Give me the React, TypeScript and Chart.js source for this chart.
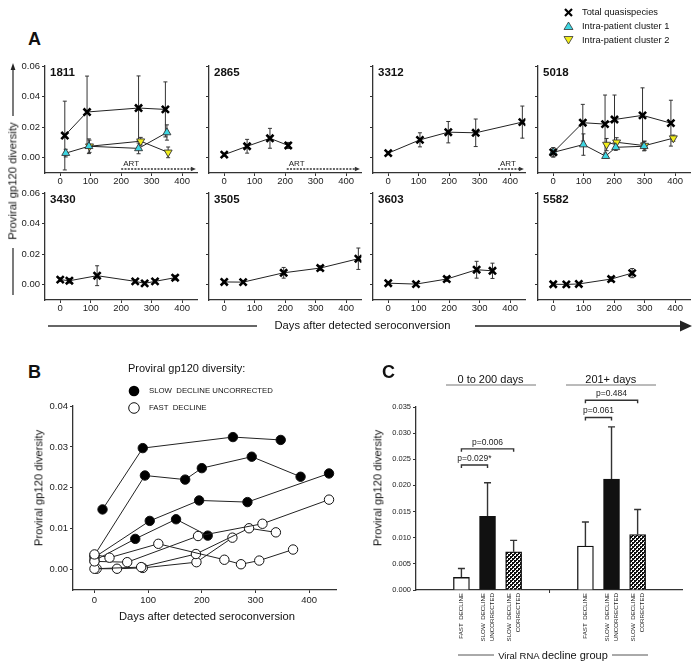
import React, { useEffect, useRef } from 'react';
import { Chart, registerables } from 'chart.js';

Chart.register(...registerables);

const FONT = "'Liberation Sans', Arial, Helvetica, sans-serif";
Chart.defaults.font.family = FONT;
Chart.defaults.color = '#222';

// ---------------- Panel A data ----------------
const A_X_TICKS = [0, 100, 200, 300, 400];
const A_Y_TICKS = [0, 0.02, 0.04, 0.06];

const P1811_DAYS = [15, 88, 257, 345];
const P1811_TOTAL = [0.0145, 0.0299, 0.0325, 0.0316];
const P1811_TOTAL_ERR = [0.0225, 0.0235, 0.021, 0.018];
const P1811_C1_DAYS = [18, 94, 257, 350];
const P1811_C1 = [0.003, 0.0075, 0.0061, 0.0165];
const P1811_C1_ERR = [0.0025, 0.0048, 0.0035, 0.005];
const P1811_C2_DAYS = [96, 264, 354];
const P1811_C2 = [0.0075, 0.0108, 0.0035];
const P1811_C2_ERR = [0.004, 0.0025, 0.0035];

const P2865_DAYS = [0, 75, 150, 210];
const P2865_TOTAL = [0.002, 0.0075, 0.0127, 0.008];
const P2865_TOTAL_ERR = [0.001, 0.0045, 0.0065, 0.002];

const P3312_DAYS = [0, 104, 197, 287, 440];
const P3312_TOTAL = [0.003, 0.0117, 0.0167, 0.0163, 0.0233];
const P3312_TOTAL_ERR = [0.001, 0.0046, 0.007, 0.009, 0.0105];

const P5018_DAYS = [0, 97, 170, 201, 293, 386];
const P5018_TOTAL = [0.0035, 0.0229, 0.022, 0.025, 0.0277, 0.0226];
const P5018_TOTAL_ERR = [0.003, 0.012, 0.019, 0.016, 0.018, 0.015];
const P5018_C1_DAYS = [0, 99, 172, 205, 298];
const P5018_C1 = [0.0035, 0.0086, 0.001, 0.0068, 0.0075];
const P5018_C1_ERR = [0.003, 0.007, 0.001, 0.002, 0.003];
const P5018_C2_DAYS = [175, 208, 300, 394];
const P5018_C2 = [0.0086, 0.0101, 0.0079, 0.0128];
const P5018_C2_ERR = [0.004, 0.003, 0.003, 0.002];

const P3430_DAYS = [0, 30, 121, 246, 277, 311, 377];
const P3430_TOTAL = [0.0033, 0.0026, 0.0059, 0.0022, 0.0009, 0.0022, 0.0046];
const P3430_TOTAL_ERR = [0.0012, 0.0015, 0.0065, 0.001, 0.0008, 0.001, 0.0015];

const P3505_DAYS = [0, 62, 195, 315, 440];
const P3505_TOTAL = [0.0018, 0.0017, 0.0078, 0.0109, 0.017];
const P3505_TOTAL_ERR = [0.001, 0.0008, 0.0035, 0.0015, 0.007];

const P3603_DAYS = [0, 91, 192, 290, 342];
const P3603_TOTAL = [0.001, 0.0004, 0.0037, 0.0098, 0.0091];
const P3603_TOTAL_ERR = [0.0008, 0.0006, 0.0015, 0.0055, 0.005];

const P5582_DAYS = [0, 43, 84, 190, 259];
const P5582_TOTAL = [0.0003, 0.0002, 0.0005, 0.0037, 0.0076];
const P5582_TOTAL_ERR = [0.0006, 0.0005, 0.0006, 0.0015, 0.003];

const A_LEGEND = ['Total quasispecies', 'Intra-patient cluster 1', 'Intra-patient cluster 2'];

type Series = { days: number[]; vals: number[]; errs: number[] };
type Panel = { name: string; row: number; col: number; art?: number; total: Series; c1?: Series; c2?: Series };

const A_PANELS: Panel[] = [
  { name: '1811', row: 0, col: 0, art: 200,
    total: { days: P1811_DAYS, vals: P1811_TOTAL, errs: P1811_TOTAL_ERR },
    c1: { days: P1811_C1_DAYS, vals: P1811_C1, errs: P1811_C1_ERR },
    c2: { days: P1811_C2_DAYS, vals: P1811_C2, errs: P1811_C2_ERR } },
  { name: '2865', row: 0, col: 1, art: 205,
    total: { days: P2865_DAYS, vals: P2865_TOTAL, errs: P2865_TOTAL_ERR } },
  { name: '3312', row: 0, col: 2, art: 360,
    total: { days: P3312_DAYS, vals: P3312_TOTAL, errs: P3312_TOTAL_ERR } },
  { name: '5018', row: 0, col: 3,
    total: { days: P5018_DAYS, vals: P5018_TOTAL, errs: P5018_TOTAL_ERR },
    c1: { days: P5018_C1_DAYS, vals: P5018_C1, errs: P5018_C1_ERR },
    c2: { days: P5018_C2_DAYS, vals: P5018_C2, errs: P5018_C2_ERR } },
  { name: '3430', row: 1, col: 0, total: { days: P3430_DAYS, vals: P3430_TOTAL, errs: P3430_TOTAL_ERR } },
  { name: '3505', row: 1, col: 1, total: { days: P3505_DAYS, vals: P3505_TOTAL, errs: P3505_TOTAL_ERR } },
  { name: '3603', row: 1, col: 2, total: { days: P3603_DAYS, vals: P3603_TOTAL, errs: P3603_TOTAL_ERR } },
  { name: '5582', row: 1, col: 3, total: { days: P5582_DAYS, vals: P5582_TOTAL, errs: P5582_TOTAL_ERR } },
];

// ---------------- Panel B data ----------------
const B_X_TICKS = [0, 100, 200, 300, 400];
const B_Y_TICKS = [0, 0.01, 0.02, 0.03, 0.04];
const B_LEGEND = ['SLOW  DECLINE UNCORRECTED', 'FAST  DECLINE'];

const B1811_DAYS = [15, 90, 258, 347];
const B1811_VALS = [0.0147, 0.0297, 0.0324, 0.0317];
const B5018_DAYS = [0, 94, 169, 200, 293, 384];
const B5018_VALS = [0.0035, 0.023, 0.022, 0.0248, 0.0276, 0.0227];
const B3312_DAYS = [0, 103, 195, 285, 437];
const B3312_VALS = [0.003, 0.0119, 0.0169, 0.0165, 0.0235];
const B2865_DAYS = [0, 76, 152, 211];
const B2865_VALS = [0.0022, 0.0075, 0.0123, 0.0083];

const B3430_DAYS = [0, 28, 119, 242, 273, 307, 370];
const B3430_VALS = [0.0037, 0.0029, 0.0063, 0.0024, 0.0013, 0.0022, 0.0049];
const B3505_DAYS = [0, 61, 193, 313, 437];
const B3505_VALS = [0.002, 0.0018, 0.0082, 0.0112, 0.0171];
const B3603_DAYS = [0, 87, 189, 288, 338];
const B3603_VALS = [0.0002, 0.0006, 0.0038, 0.0101, 0.0091];
const B5582_DAYS = [4, 42, 90, 190, 257];
const B5582_VALS = [0.0002, 0.0002, 0.0004, 0.0018, 0.0078];

const B_SLOW = [
  { days: B1811_DAYS, vals: B1811_VALS },
  { days: B5018_DAYS, vals: B5018_VALS },
  { days: B3312_DAYS, vals: B3312_VALS },
  { days: B2865_DAYS, vals: B2865_VALS },
];
const B_FAST = [
  { days: B3430_DAYS, vals: B3430_VALS },
  { days: B3505_DAYS, vals: B3505_VALS },
  { days: B3603_DAYS, vals: B3603_VALS },
  { days: B5582_DAYS, vals: B5582_VALS },
];

// ---------------- Panel C data ----------------
const C_GROUPS = ['0 to 200 days', '201+ days'];
const C_BARS = [['FAST  DECLINE'], ['SLOW  DECLINE', 'UNCORRECTED'], ['SLOW  DECLINE', 'CORRECTED']];
const C_MEAN_EARLY = [0.0024, 0.0141, 0.0073];
const C_ERR_EARLY = [0.0017, 0.0064, 0.0022];
const C_MEAN_LATE = [0.0084, 0.0212, 0.0106];
const C_ERR_LATE = [0.0046, 0.01, 0.0048];
const C_Y_TICKS = [0, 0.005, 0.01, 0.015, 0.02, 0.025, 0.03, 0.035];
const C_PVALUES = ['p=0.029*', 'p=0.006', 'p=0.061', 'p=0.484'];

// ---------------- plugins ----------------
const errorBars = {
  id: 'errorBars',
  beforeDatasetsDraw(chart: any, _a: any, opts: any) {
    const ctx = chart.ctx;
    const ys = chart.scales.y;
    chart.data.datasets.forEach((ds: any, i: number) => {
      if (!ds.errors) return;
      const meta = chart.getDatasetMeta(i);
      ctx.save();
      ctx.strokeStyle = opts.color || '#333';
      ctx.lineWidth = opts.width || 1;
      meta.data.forEach((el: any, j: number) => {
        const e = ds.errors[j];
        if (e == null) return;
        const raw = ds.data[j];
        const v = typeof raw === 'number' ? raw : raw.y;
        const x = el.x;
        const top = ys.getPixelForValue(v + e);
        const bot = ys.getPixelForValue(opts.upperOnly ? v : v - e);
        const cap = opts.cap || 2;
        ctx.beginPath();
        ctx.moveTo(x, top);
        ctx.lineTo(x, bot);
        ctx.moveTo(x - cap, top);
        ctx.lineTo(x + cap, top);
        if (!opts.upperOnly) {
          ctx.moveTo(x - cap, bot);
          ctx.lineTo(x + cap, bot);
        }
        ctx.stroke();
      });
      ctx.restore();
    });
  },
};

const artPlugin = {
  id: 'art',
  afterDatasetsDraw(chart: any, _a: any, opts: any) {
    if (!opts || opts.start == null) return;
    const xs = chart.scales.x;
    const { ctx, chartArea } = chart;
    const x0 = xs.getPixelForValue(opts.start);
    const x1 = xs.getPixelForValue(opts.end);
    const y = chartArea.bottom - 4;
    ctx.save();
    ctx.strokeStyle = '#333';
    ctx.lineWidth = 1.5;
    ctx.setLineDash([2, 1.3]);
    ctx.beginPath();
    ctx.moveTo(x0, y);
    ctx.lineTo(x1 - 3, y);
    ctx.stroke();
    ctx.setLineDash([]);
    ctx.fillStyle = '#333';
    ctx.beginPath();
    ctx.moveTo(x1, y);
    ctx.lineTo(x1 - 5, y - 2.3);
    ctx.lineTo(x1 - 5, y + 2.3);
    ctx.closePath();
    ctx.fill();
    ctx.font = `8px ${FONT}`;
    ctx.textBaseline = 'alphabetic';
    ctx.fillStyle = '#222';
    ctx.fillText('ART', x0 + 2, y - 3.5);
    ctx.restore();
  },
};

const cDecor = {
  id: 'cDecor',
  afterDraw(chart: any, _a: any, opts: any) {
    const xs = chart.scales.x;
    const ys = chart.scales.y;
    const { ctx, chartArea } = chart;
    ctx.save();
    ctx.strokeStyle = '#333';
    ctx.lineWidth = 1.4;
    ctx.fillStyle = '#222';
    ctx.font = `8.5px ${FONT}`;
    ctx.textAlign = 'center';
    ctx.textBaseline = 'middle';
    opts.brackets.forEach((b: any) => {
      const x0 = xs.getPixelForValue(b.from);
      const x1 = xs.getPixelForValue(b.to);
      const y = ys.getPixelForValue(b.level);
      ctx.beginPath();
      ctx.moveTo(x0, y + 3);
      ctx.lineTo(x0, y);
      ctx.lineTo(x1, y);
      ctx.lineTo(x1, y + 3);
      ctx.stroke();
      ctx.fillText(b.label, (x0 + x1) / 2, y - 6.5);
    });
    ctx.font = `6.2px ${FONT}`;
    ctx.textAlign = 'right';
    ctx.textBaseline = 'middle';
    opts.labels.forEach((l: any) => {
      const x = xs.getPixelForValue(l.pos);
      const n = l.lines.length;
      l.lines.forEach((t: string, k: number) => {
        ctx.save();
        ctx.translate(x + (k - (n - 1) / 2) * 9, chartArea.bottom + 3);
        ctx.rotate(-Math.PI / 2);
        ctx.fillText(t, 0, 0);
        ctx.restore();
      });
    });
    const xm = xs.getPixelForValue(opts.midTick);
    ctx.lineWidth = 1;
    ctx.beginPath();
    ctx.moveTo(xm, chartArea.bottom);
    ctx.lineTo(xm, chartArea.bottom + 3);
    ctx.stroke();
    ctx.restore();
  },
};

// ---------------- helpers ----------------
function axisStyle() {
  return {
    grid: { display: true, drawOnChartArea: false, drawTicks: true, tickLength: 3, color: '#333', lineWidth: 1 },
    border: { display: true, color: '#333', width: 1.3 },
  };
}

function seriesDataset(s: Series, kind: 'total' | 'c1' | 'c2') {
  const base: any = {
    data: s.days.map((d, i) => ({ x: d, y: s.vals[i] })),
    errors: s.errs,
    borderColor: '#222',
    borderWidth: 1,
    tension: 0,
    fill: false,
  };
  if (kind === 'total') {
    return { ...base, order: 0, pointStyle: 'crossRot', pointRadius: 5, pointBorderWidth: 2.6, pointBorderColor: '#000', pointBackgroundColor: '#000' };
  }
  if (kind === 'c1') {
    return { ...base, order: 1, pointStyle: 'triangle', pointRadius: 4.6, pointBorderWidth: 0.9, pointBorderColor: '#333', pointBackgroundColor: '#3ed6e2' };
  }
  return { ...base, order: 2, pointStyle: 'triangle', pointRotation: 180, pointRadius: 4.6, pointBorderWidth: 0.9, pointBorderColor: '#333', pointBackgroundColor: '#f2ee1c' };
}

function panelConfig(p: Panel) {
  const datasets: any[] = [seriesDataset(p.total, 'total')];
  if (p.c1) datasets.push(seriesDataset(p.c1, 'c1'));
  if (p.c2) datasets.push(seriesDataset(p.c2, 'c2'));
  const showY = p.col === 0;
  return {
    type: 'line',
    data: { datasets },
    options: {
      responsive: false,
      animation: false,
      events: [],
      layout: { padding: { top: 10, right: 5, left: 0, bottom: 0 } },
      plugins: {
        legend: { display: false },
        tooltip: { enabled: false },
        errorBars: { cap: 2, color: '#333', width: 1 },
        art: p.art != null ? { start: p.art, end: 445 } : {},
      },
      scales: {
        x: {
          type: 'linear', min: -50, max: 450,
          afterBuildTicks: (s: any) => { s.ticks = A_X_TICKS.map((v) => ({ value: v })); },
          afterFit: (s: any) => { s.height = 18; },
          ...axisStyle(),
          ticks: { font: { size: 9.5 }, color: '#222', padding: 0, maxRotation: 0, autoSkip: false, callback: (v: any) => String(v) },
        },
        y: {
          type: 'linear', min: -0.01, max: 0.06,
          afterBuildTicks: (s: any) => { s.ticks = A_Y_TICKS.map((v) => ({ value: v })); },
          afterFit: (s: any) => { s.width = 40; },
          ...axisStyle(),
          ticks: { display: showY, font: { size: 9.5 }, color: '#222', padding: 2, callback: (v: any) => Number(v).toFixed(2) },
        },
      },
    },
    plugins: [errorBars, artPlugin],
  };
}

function panelBConfig() {
  const datasets: any[] = [];
  B_FAST.forEach((s) => {
    datasets.push({
      data: s.days.map((d, i) => ({ x: d, y: s.vals[i] })),
      borderColor: '#222', borderWidth: 1, order: 0,
      pointRadius: 4.7, pointBorderWidth: 1, pointBorderColor: '#111', pointBackgroundColor: '#fff',
    });
  });
  B_SLOW.forEach((s) => {
    datasets.push({
      data: s.days.map((d, i) => ({ x: d, y: s.vals[i] })),
      borderColor: '#222', borderWidth: 1, order: 1,
      pointRadius: 4.7, pointBorderWidth: 1, pointBorderColor: '#111',
      pointBackgroundColor: s.days.map((d) => (d === 0 ? '#fff' : '#000')),
    });
  });
  return {
    type: 'line',
    data: { datasets },
    options: {
      responsive: false,
      animation: false,
      events: [],
      layout: { padding: { top: 10, right: 14, left: 0, bottom: 0 } },
      plugins: { legend: { display: false }, tooltip: { enabled: false } },
      scales: {
        x: {
          type: 'linear', min: -40, max: 450,
          afterBuildTicks: (s: any) => { s.ticks = B_X_TICKS.map((v) => ({ value: v })); },
          afterFit: (s: any) => { s.height = 31; },
          ...axisStyle(),
          ticks: { font: { size: 9.5 }, color: '#222', padding: 1.5, maxRotation: 0, autoSkip: false, callback: (v: any) => String(v) },
        },
        y: {
          type: 'linear', min: -0.005, max: 0.04,
          afterBuildTicks: (s: any) => { s.ticks = B_Y_TICKS.map((v) => ({ value: v })); },
          afterFit: (s: any) => { s.width = 63; },
          ...axisStyle(),
          ticks: { font: { size: 9.5 }, color: '#222', padding: 2, callback: (v: any) => Number(v).toFixed(2) },
        },
      },
    },
  };
}

function makeHatch() {
  const c = document.createElement('canvas');
  c.width = 4;
  c.height = 4;
  const g = c.getContext('2d')!;
  g.fillStyle = '#111';
  g.fillRect(0, 0, 4, 4);
  g.fillStyle = '#fff';
  g.fillRect(0, 0, 2, 2);
  g.fillRect(2, 2, 2, 2);
  g.fillStyle = '#111';
  g.fillRect(0, 0, 1, 1);
  g.fillRect(2, 2, 1, 1);
  return g.createPattern(c, 'repeat');
}

const C_GROUP_STEP = 4.75;

function panelCConfig() {
  const hatch = makeHatch();
  const fills = ['#fff', '#111', hatch];
  const points: any[] = [];
  const errs: number[] = [];
  const colors: any[] = [];
  const labels: any[] = [];
  [C_MEAN_EARLY, C_MEAN_LATE].forEach((means, g) => {
    const e = g === 0 ? C_ERR_EARLY : C_ERR_LATE;
    means.forEach((m, b) => {
      const pos = g * C_GROUP_STEP + b;
      points.push({ x: pos, y: m });
      errs.push(e[b]);
      colors.push(fills[b]);
      labels.push({ pos, lines: C_BARS[b] });
    });
  });
  const brackets = [
    { from: 0, to: 1, level: 0.0239, label: C_PVALUES[0] },
    { from: 0, to: 2, level: 0.027, label: C_PVALUES[1] },
    { from: C_GROUP_STEP, to: C_GROUP_STEP + 1, level: 0.033, label: C_PVALUES[2] },
    { from: C_GROUP_STEP, to: C_GROUP_STEP + 2, level: 0.0363, label: C_PVALUES[3] },
  ];
  return {
    type: 'bar',
    data: {
      datasets: [{
        data: points, errors: errs, backgroundColor: colors,
        borderColor: '#111', borderWidth: 1.3, barThickness: 16,
      }],
    },
    options: {
      responsive: false,
      animation: false,
      events: [],
      layout: { padding: { top: 27, right: 8, left: 0, bottom: 0 } },
      plugins: {
        legend: { display: false }, tooltip: { enabled: false },
        errorBars: { cap: 3.5, color: '#333', width: 1.4, upperOnly: true },
        cDecor: { brackets, labels, midTick: 2 + (C_GROUP_STEP - 2) / 2 },
      },
      scales: {
        x: {
          type: 'linear', min: -1.74, max: 8.45, offset: false,
          grid: { display: false },
          border: { display: true, color: '#333', width: 1.3 },
          ticks: { display: false },
          afterFit: (s: any) => { s.height = 76; },
        },
        y: {
          type: 'linear', min: 0, max: 0.035,
          afterBuildTicks: (s: any) => { s.ticks = C_Y_TICKS.map((v) => ({ value: v })); },
          afterFit: (s: any) => { s.width = 56; },
          ...axisStyle(),
          ticks: { font: { size: 7.5 }, color: '#222', padding: 2, callback: (v: any) => Number(v).toFixed(3) },
        },
      },
    },
    plugins: [errorBars, cDecor],
  };
}

function ChartBox({ left, top, width, height, make }: { left: number; top: number; width: number; height: number; make: () => any }) {
  const ref = useRef<HTMLCanvasElement>(null);
  useEffect(() => {
    const chart = new Chart(ref.current as HTMLCanvasElement, make());
    return () => chart.destroy();
  }, []);
  return <canvas ref={ref} width={width} height={height} style={{ position: 'absolute', left, top, width, height }} />;
}

function T({ x, y, size, bold, anchor, children, rotate }: any) {
  const tx = anchor === 'middle' ? '-50%' : anchor === 'end' ? '-100%' : '0';
  const style: any = {
    position: 'absolute', left: x, top: y, whiteSpace: 'nowrap', fontSize: size,
    fontWeight: bold ? 'bold' : 'normal', lineHeight: 1, color: '#111',
    transform: rotate ? `translate(-50%, -50%) rotate(-90deg)` : `translate(${tx}, -50%)`,
  };
  return <div style={style}>{children}</div>;
}

const COL_X = [45, 209, 373, 538];
const ROW_TOP = [66, 193];

export default function App() {
  return (
    <div style={{ position: 'absolute', left: 0, top: 0, width: 699, height: 666, overflow: 'hidden', background: '#fff', fontFamily: FONT }}>
      <svg width={699} height={666} style={{ position: 'absolute', left: 0, top: 0 }}>
        <line x1={13} y1={116} x2={13} y2={69} stroke="#222" strokeWidth={1.2} />
        <polygon points="13,63 10.6,70 15.4,70" fill="#222" />
        <line x1={13} y1={248} x2={13} y2={295} stroke="#222" strokeWidth={1.2} />
        <line x1={48} y1={326} x2={257} y2={326} stroke="#333" strokeWidth={1.6} />
        <line x1={475} y1={326} x2={682} y2={326} stroke="#222" strokeWidth={1.6} />
        <polygon points="692,326 680,320.5 680,331.5" fill="#222" />
        <line x1={565} y1={9} x2={572} y2={16} stroke="#000" strokeWidth={2.2} />
        <line x1={565} y1={16} x2={572} y2={9} stroke="#000" strokeWidth={2.2} />
        <polygon points="568.5,22 564,29.5 573,29.5" fill="#3ed6e2" stroke="#333" strokeWidth={0.8} />
        <polygon points="564,36.5 573,36.5 568.5,44" fill="#f2ee1c" stroke="#333" strokeWidth={0.8} />
        <circle cx={134} cy={391} r={5.3} fill="#000" />
        <circle cx={134} cy={408} r={5.3} fill="#fff" stroke="#111" strokeWidth={1} />
        <line x1={446} y1={385} x2={536} y2={385} stroke="#777" strokeWidth={1} />
        <line x1={566} y1={385} x2={656} y2={385} stroke="#777" strokeWidth={1} />
        <line x1={458} y1={655} x2={494} y2={655} stroke="#555" strokeWidth={1} />
        <line x1={612} y1={655} x2={648} y2={655} stroke="#555" strokeWidth={1} />
      </svg>

      {A_PANELS.map((p) => (
        <ChartBox key={p.name} left={COL_X[p.col] - 40} top={ROW_TOP[p.row] - 10} width={200} height={135} make={() => panelConfig(p)} />
      ))}
      <ChartBox left={10} top={396} width={340} height={225} make={panelBConfig} />
      <ChartBox left={360} top={380} width={330} height={286} make={panelCConfig} />

      <T x={28} y={38.5} size={18} bold>A</T>
      <T x={28} y={372} size={18} bold>B</T>
      <T x={382} y={372} size={18} bold>C</T>

      {A_PANELS.map((p) => (
        <T key={'t' + p.name} x={COL_X[p.col] + 5} y={ROW_TOP[p.row] + 7} size={11.5} bold>{p.name}</T>
      ))}
      {A_LEGEND.map((l, i) => (
        <T key={l} x={582} y={12.5 + i * 14} size={9.3}>{l}</T>
      ))}
      <T x={13} y={181} size={11.3} rotate>Proviral gp120 diversity</T>
      <T x={362.5} y={326} size={11.2} anchor="middle">Days after detected seroconversion</T>

      <T x={128} y={368} size={11}>Proviral gp120 diversity:</T>
      {B_LEGEND.map((l, i) => (
        <T key={l} x={149} y={391 + i * 17} size={7.8}><span style={{ whiteSpace: 'pre' }}>{l}</span></T>
      ))}
      <T x={39} y={488} size={11.2} rotate>Proviral gp120 diversity</T>
      <T x={207} y={617} size={11.2} anchor="middle">Days after detected seroconversion</T>

      <T x={378} y={488} size={11.2} rotate>Proviral gp120 diversity</T>
      <T x={490.5} y={378.5} size={11} anchor="middle">{C_GROUPS[0]}</T>
      <T x={610.8} y={378.5} size={11} anchor="middle">{C_GROUPS[1]}</T>
      <T x={553} y={655} size={11} anchor="middle"><span style={{ fontSize: 9.5 }}>Viral RNA </span>decline group</T>
    </div>
  );
}
